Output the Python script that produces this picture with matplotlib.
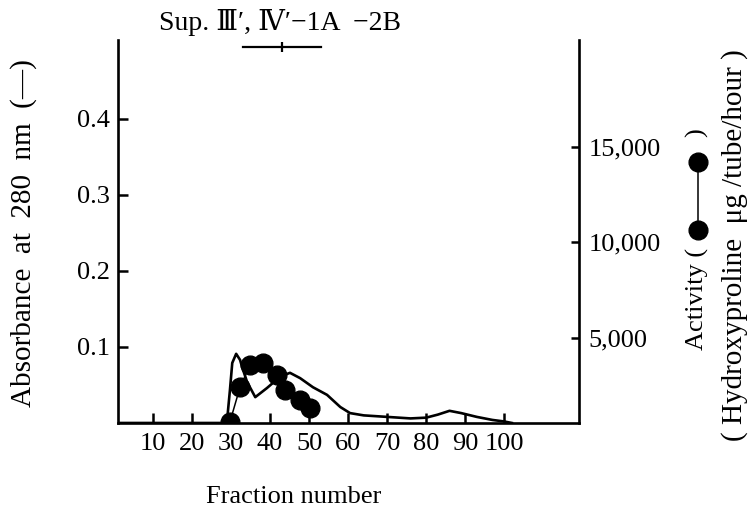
import matplotlib.pyplot as plt
from matplotlib.lines import Line2D

# absorbance at 280 nm along the column
abs_fraction = [1, 28, 29, 29.7, 30.3, 31.3, 32.3, 32.8, 34.1, 36.2, 39.2, 42.6, 45.1,
                47.7, 51, 54.6, 58, 60.5, 64, 70, 76, 80, 83, 86, 89, 93, 97, 100, 102]
absorbance = [0, 0, 0.005, 0.043, 0.079, 0.091, 0.083, 0.074, 0.054, 0.034, 0.046, 0.061,
              0.066, 0.059, 0.047, 0.037, 0.021, 0.013, 0.010, 0.008, 0.006, 0.007, 0.011,
              0.016, 0.013, 0.008, 0.004, 0.002, 0]

# collagenase activity (hydroxyproline released)
act_fraction = [29.7, 32.3, 34.9, 38.2, 41.8, 43.8, 47.7, 50.3]
activity = [600, 2430, 3590, 3690, 3060, 2280, 1750, 1340]

x_ticks = [10, 20, 30, 40, 50, 60, 70, 80, 90, 100]
abs_ticks = [0.1, 0.2, 0.3, 0.4]
act_ticks = [5000, 10000, 15000]

# pooled fractions (Sup. III', IV'-1A -2B)
pool = (33, 53)
pool_mid = 43

plt.rcParams['font.family'] = ['Liberation Serif', 'DejaVu Serif', 'DejaVu Sans']
plt.rcParams['font.size'] = 18

fig = plt.figure(figsize=(7.5, 5.09), dpi=100)
ax = fig.add_axes([0.1573, 0.169, 0.6147, 0.7525])
ax2 = ax.twinx()

ax.plot(abs_fraction, absorbance, color='black', lw=1.9)
ax2.plot(act_fraction, activity, color='black', lw=1.1, marker='o', ms=13.5)

ax.set_xlim(1, 119.2)
ax.set_ylim(0, 0.504)
ax2.set_ylim(550, 20600)

ax.set_xticks(x_ticks)
ax.set_yticks(abs_ticks)
ax.set_yticklabels([f'{v:.1f}' for v in abs_ticks])
ax2.set_yticks(act_ticks)
ax2.set_yticklabels([f'{v:,}' for v in act_ticks])

for a in (ax, ax2):
    a.spines['top'].set_visible(False)
    for s in a.spines.values():
        s.set_linewidth(1.9)
ax.spines['right'].set_visible(False)
ax2.spines['left'].set_visible(False)
ax2.spines['bottom'].set_visible(False)

ax.tick_params(axis='both', direction='in', length=7, width=1.8, labelsize=19)
ax.tick_params(axis='x', pad=7)
ax.tick_params(axis='y', pad=6)
ax2.tick_params(axis='y', direction='in', length=6, width=1.8, labelsize=19, pad=7)

# pooled-fraction bar above the peak
ax.plot(pool, [0.495, 0.495], color='black', lw=1.6, clip_on=False)
ax.plot([pool_mid], [0.495], color='black', marker='|', ms=7, mew=1.6, clip_on=False)
fig.text(280 / 750, 1 - 22 / 509, "Sup. Ⅲ′, Ⅳ′−1A  −2B", ha='center', va='center',
         fontsize=20)

fig.text(24 / 750, 1 - 233 / 509, "Absorbance  at  280  nm  (—)", rotation=90,
         ha='center', va='center', fontsize=21)
fig.text(294 / 750, 1 - 497 / 509, "Fraction number", ha='center', va='center',
         fontsize=19)

# right-hand label with the activity symbol inside the brackets
fig.text(697 / 750, 1 - 350 / 509, "Activity (", rotation=90, ha='center',
         va='bottom', fontsize=19)
fig.add_artist(Line2D([698 / 750, 698 / 750], [1 - 230 / 509, 1 - 162 / 509],
                      transform=fig.transFigure, color='black', lw=1.1,
                      marker='o', ms=13.5))
fig.text(697 / 750, 1 - 128 / 509, ")", rotation=90, ha='center', va='top',
         fontsize=19)
fig.text(735 / 750, 1 - 245 / 509, "( Hydroxyproline  μg /tube/hour )", rotation=90,
         ha='center', va='center', fontsize=21)

fig.savefig('out.png', dpi=100)
